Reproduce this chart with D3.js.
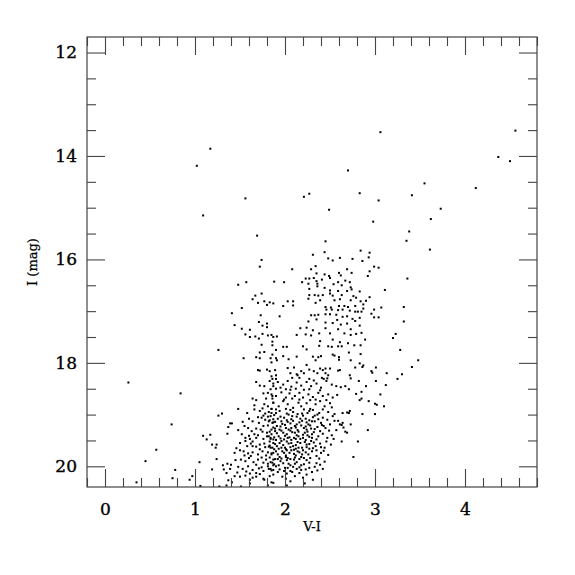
<!DOCTYPE html>
<html>
<head>
<meta charset="utf-8">
<script src="https://cdn.jsdelivr.net/npm/d3@7"></script>
<style>
    body { margin: 0; background: #fff; }
    svg { display: block; }
</style>
</head>
<body>
<div id="container"></div>
<script>
// bornes des axes
const xDomain = [-0.2, 4.8];
const yDomain = [11.7, 20.4];

// graduations
const xMajorTicks = [0, 1, 2, 3, 4];
const xMinorTicks = [-0.2, 0.2, 0.4, 0.6, 0.8, 1.2, 1.4, 1.6, 1.8, 2.2, 2.4, 2.6, 2.8, 3.2, 3.4, 3.6, 3.8, 4.2, 4.4, 4.6, 4.8];
const yMajorTicks = [12, 14, 16, 18, 20];
const yMinorTicks = [12.5, 13, 13.5, 14.5, 15, 15.5, 16.5, 17, 17.5, 18.5, 19, 19.5];

// titres des axes
const xTitle = "V-I";
const yTitle = "I (mag)";

// étoiles brillantes et isolées : [V-I, I]
const brightStars = [
    [3.06,13.54],[1.17,13.86],[1.02,14.19],[2.70,14.28],[4.56,13.51],[4.37,14.02],[4.50,14.10],[3.55,14.53],
    [4.12,14.62],[3.41,14.76],[2.83,14.72],[3.04,14.86],[2.21,14.79],[2.27,14.73],[1.56,14.82],[1.09,15.15],
    [2.49,15.04],[3.73,15.02],[3.62,15.22],[2.98,15.27],[3.38,15.46],[1.69,15.54],[3.61,15.81],[3.48,17.95],
    [0.26,18.38],[0.84,18.59],[0.74,19.19],[0.57,19.68],[0.45,19.90],[0.78,20.07],[0.75,20.23],[0.35,20.31]
];

// branche bleue (V-I < 2.1, I < 18)
const blueBranch = [
    [1.74,16.01],[1.72,16.14],[2.08,16.19],[1.48,16.49],[1.57,16.44],[1.88,16.43],[1.99,16.44],[1.74,16.66],
    [1.67,16.70],[1.64,16.77],[1.70,16.84],[1.77,16.81],[1.80,16.88],[1.83,16.83],[1.87,16.85],[1.98,16.90],
    [2.03,16.81],[2.09,16.81],[2.09,16.89],[1.52,16.94],[1.41,17.04],[1.73,17.08],[1.94,17.10],[1.71,17.21],
    [1.80,17.24],[1.75,17.28],[1.80,17.31],[1.44,17.27],[1.52,17.34],[1.61,17.36],[1.56,17.45],[1.61,17.50],
    [1.67,17.49],[1.71,17.53],[1.75,17.44],[1.81,17.47],[1.85,17.46],[1.87,17.50],[1.91,17.49],[2.13,17.46],
    [1.86,17.59],[1.86,17.66],[1.74,17.65],[1.26,17.75],[1.98,17.69],[2.02,17.69],[1.90,17.75],[1.72,17.80],
    [1.77,17.79],[1.86,17.84],[1.54,17.91],[1.68,17.89],[1.72,17.91],[1.84,17.91],[1.90,17.91],[1.98,17.87],
    [2.13,17.88]
];

// branche rouge (V-I > 2.1, I < 18)
const redBranch = [
    [3.35,15.64],[2.45,15.65],[2.31,15.91],[2.44,15.86],[2.84,15.83],[2.94,15.87],[2.86,16.03],[2.93,15.96],
    [2.48,15.98],[2.53,16.02],[2.61,15.97],[2.75,15.99],[2.34,16.13],[2.29,16.19],[2.99,16.14],[3.04,16.16],
    [2.94,16.23],[2.92,16.32],[3.36,16.37],[2.69,16.19],[2.35,16.27],[2.44,16.29],[2.49,16.32],[2.60,16.26],
    [2.62,16.31],[2.74,16.26],[2.23,16.37],[2.27,16.37],[2.32,16.36],[2.35,16.42],[2.19,16.44],[2.41,16.39],
    [2.50,16.36],[2.59,16.44],[2.67,16.41],[2.72,16.44],[2.26,16.47],[2.36,16.47],[2.36,16.52],[2.54,16.48],
    [2.63,16.50],[2.73,16.54],[2.74,16.58],[2.27,16.57],[2.44,16.55],[2.50,16.60],[2.59,16.61],[2.69,16.61],
    [2.83,16.62],[3.11,16.59],[2.27,16.69],[2.33,16.69],[2.37,16.70],[2.42,16.69],[2.50,16.66],[2.53,16.70],
    [2.63,16.69],[2.76,16.71],[2.79,16.74],[2.94,16.73],[2.26,16.76],[2.39,16.79],[2.55,16.79],[2.61,16.77],
    [2.73,16.79],[2.84,16.81],[2.90,16.80],[2.34,16.84],[2.45,16.92],[2.51,16.93],[2.60,16.90],[2.66,16.90],
    [2.70,16.92],[2.78,16.90],[2.87,16.87],[2.46,16.97],[2.52,16.97],[2.59,16.98],[2.64,16.97],[2.72,16.99],
    [2.78,17.01],[2.81,17.01],[2.85,17.01],[2.87,16.95],[2.99,16.97],[3.07,16.93],[2.96,17.05],[3.32,16.92],
    [2.37,17.07],[2.33,17.08],[2.29,17.08],[2.45,17.06],[2.50,17.06],[2.57,17.07],[2.64,17.11],[2.69,17.10],
    [2.75,17.15],[2.83,17.13],[2.99,17.12],[3.04,17.12],[2.35,17.16],[2.58,17.17],[2.78,17.19],[2.26,17.20],
    [3.32,17.20],[2.45,17.22],[2.53,17.23],[2.69,17.24],[2.17,17.33],[2.24,17.32],[2.31,17.37],[2.45,17.33],
    [2.59,17.35],[2.62,17.26],[2.73,17.35],[2.83,17.28],[2.23,17.45],[2.29,17.47],[2.38,17.43],[2.50,17.43],
    [2.66,17.43],[2.73,17.46],[2.79,17.44],[2.85,17.42],[3.23,17.44],[3.20,17.52],[2.39,17.58],[2.53,17.55],
    [2.61,17.60],[2.89,17.55],[2.48,17.68],[2.52,17.69],[2.59,17.68],[2.63,17.68],[2.70,17.62],[2.77,17.66],
    [2.84,17.66],[2.20,17.68],[2.24,17.74],[2.38,17.67],[3.28,17.75],[2.31,17.88],[2.37,17.89],[2.40,17.87],
    [2.53,17.84],[2.55,17.86],[2.60,17.89],[2.71,17.80],[2.84,17.83]
];

// bord supérieur de l'amas (I entre 17.9 et 18.3) et flanc rouge
const upperClump = [
    [1.85,17.99],[1.91,17.95],[2.04,17.93],[1.70,18.14],[1.72,18.15],[1.80,18.13],[1.83,18.16],[1.89,18.14],
    [2.03,18.10],[2.06,18.20],[2.14,18.24],[1.85,18.26],[1.90,18.24],[1.86,18.31],[1.90,18.31],[1.09,19.41],
    [1.17,19.39],[1.13,19.48],[1.05,19.92],[0.97,20.19],[0.94,20.26],[1.06,20.38],
    [2.34,17.95],[2.60,17.94],[2.73,17.95],[2.83,18.01],[2.87,18.05],[2.86,18.08],[3.01,18.09],[2.96,18.16],
    [2.97,18.19],[3.13,18.20],[3.30,18.22],[3.41,18.08],[3.25,18.31],[2.10,18.09],[2.24,18.04],[2.39,18.11],
    [2.42,18.14],[2.45,18.11],[2.50,18.11],[2.32,18.16],[2.36,18.20],[2.45,18.20],[2.48,18.24],[2.27,18.31],
    [2.32,18.34],[2.41,18.29],[2.43,18.31],[2.47,18.30],[2.59,18.15],[2.61,18.14],[2.72,18.24],[2.78,18.09],
    [2.13,18.22],[2.16,18.29],[2.21,18.20],[2.08,18.29],[2.18,18.16],[2.27,18.13],
    [3.01,18.35],[3.12,18.43],[2.90,18.45],[2.82,18.35],[2.73,18.30],[2.57,18.45],[2.62,18.47],[2.67,18.45],
    [2.71,18.51],[2.85,18.56],[2.79,18.60],[2.85,18.69],[2.83,18.72],[2.93,18.74],[3.00,18.79],[3.02,18.81],
    [3.06,18.61],[3.10,18.84],[3.00,18.99],[2.86,18.99],[2.92,19.30],[2.81,19.52],[2.76,19.82],[2.72,18.93],
    [2.71,18.97],[2.69,18.96],[2.64,18.97],[2.73,19.19],[2.64,19.16],[2.63,19.20],[2.61,19.19],[2.65,19.25],
    [2.59,19.12],[2.67,19.33],[2.69,19.35],[2.63,19.52],[2.57,19.30],
    [2.43,19.22],[2.49,19.31],[2.52,19.40],[2.46,19.52],[2.51,19.58],[2.43,19.70],[2.48,19.78],[2.38,19.85],
    [2.44,19.91],[2.35,19.94],[2.55,19.12],[2.47,19.10],[2.54,19.47],[2.40,19.63],[2.52,18.86],[2.46,18.72],
    [2.58,18.62],[2.55,18.99],[2.36,20.08],[2.42,20.05]
];

// coeur dense de l'amas, côté bleu (V-I 1.2 - 1.9)
const coreBlue = [
    [1.68,18.37],[1.72,18.44],[1.77,18.45],[1.83,18.35],[1.87,18.40],[1.76,18.59],[1.81,18.58],[1.64,18.69],
    [1.48,18.89],[1.77,18.80],[1.81,18.84],[1.87,18.77],[1.30,18.98],[1.26,19.02],[1.76,19.02],[1.74,19.06],
    [1.81,19.04],[1.85,18.97],[1.64,19.13],[1.71,19.16],[1.82,19.13],[1.87,19.15],[1.41,19.17],[1.39,19.17],
    [1.55,19.22],[1.59,19.26],[1.63,19.32],[1.68,19.27],[1.73,19.29],[1.37,19.24],[1.36,19.37],[1.56,19.45],
    [1.56,19.51],[1.61,19.47],[1.64,19.52],[1.68,19.45],[1.76,19.47],[1.80,19.42],[1.84,19.45],[1.87,19.48],
    [1.72,19.58],[1.77,19.56],[1.83,19.60],[1.86,19.64],[1.19,19.58],[1.24,19.58],[1.23,19.64],[1.24,19.86],
    [1.44,19.74],[1.50,19.69],[1.54,19.71],[1.59,19.75],[1.64,19.73],[1.70,19.77],[1.75,19.71],[1.79,19.79],
    [1.85,19.75],[1.51,19.87],[1.56,19.90],[1.60,19.84],[1.65,19.92],[1.70,19.87],[1.76,19.93],[1.79,19.87],
    [1.84,19.92],[1.31,19.98],[1.36,19.95],[1.40,19.97],[1.39,20.05],[1.32,20.06],[1.48,20.01],[1.53,20.05],
    [1.59,20.00],[1.64,20.07],[1.71,20.04],[1.76,20.09],[1.82,20.05],[1.87,20.07],[1.19,20.06],[1.35,20.13],
    [1.44,20.19],[1.50,20.20],[1.56,20.18],[1.61,20.26],[1.68,20.20],[1.76,20.24],[1.83,20.19],[1.37,20.27],
    [1.41,20.31],[1.35,20.37],[1.61,20.33],[1.81,20.37],[1.85,20.31],[1.27,20.39],[1.51,20.39],
    [1.66,18.90],[1.72,18.93],[1.85,18.89],[1.68,18.72],[1.86,18.64],[1.79,18.69],[1.76,19.22],[1.85,19.29],
    [1.80,19.35],[1.66,19.38],[1.72,19.67],[1.64,19.61],[1.58,19.61],[1.81,20.00],[1.87,19.98],[1.68,20.13],
    [1.61,20.14],[1.77,20.26],
    [1.48,19.30],[1.52,19.38],[1.60,19.41],[1.70,19.40],[1.75,19.33],[1.50,19.55],[1.62,19.56],[1.68,19.62],
    [1.78,19.63],[1.46,19.65],[1.55,19.79],[1.62,19.80],[1.74,19.83],[1.45,19.88],[1.68,19.97],[1.74,20.02],
    [1.57,20.10],[1.47,20.12],[1.72,20.15],[1.64,20.22],[1.78,18.98],[1.70,19.05],[1.60,19.08],[1.53,19.14],
    [1.78,19.10],[1.75,18.88],[1.66,18.82],[1.58,18.97]
];

// coeur dense de l'amas, côté rouge (V-I 1.8 - 2.55)
const coreRed = [
    [1.87,18.45],[1.92,18.37],[1.98,18.42],[2.03,18.35],[2.07,18.46],[2.13,18.38],[2.18,18.44],[2.24,18.37],
    [2.29,18.45],[2.35,18.40],[2.40,18.48],[2.46,18.35],[2.52,18.42],
    [1.85,18.61],[1.90,18.64],[1.96,18.57],[2.01,18.67],[2.05,18.59],[2.11,18.64],[2.16,18.58],[2.20,18.67],
    [2.26,18.61],[2.31,18.66],[2.37,18.58],[2.42,18.64],[2.48,18.61],[2.53,18.67],
    [1.87,18.77],[1.93,18.84],[1.98,18.74],[2.03,18.80],[2.09,18.87],[2.15,18.77],[2.18,18.84],[2.24,18.78],
    [2.28,18.89],[2.34,18.80],[2.39,18.74],[2.44,18.84],[2.50,18.78],
    [1.84,19.03],[1.90,18.97],[1.94,18.93],[1.99,19.06],[2.04,19.00],[2.09,18.95],[2.13,19.04],[2.19,18.98],
    [2.23,19.08],[2.27,18.93],[2.33,19.02],[2.38,18.97],[2.42,19.06],[2.48,18.95],[2.53,19.03],
    [1.86,19.16],[1.91,19.22],[1.96,19.13],[2.01,19.26],[2.06,19.17],[2.11,19.22],[2.16,19.15],[2.21,19.26],
    [2.26,19.19],[2.30,19.13],[2.36,19.24],[2.40,19.16],[2.45,19.26],[2.50,19.19],
    [1.85,19.38],[1.89,19.32],[1.93,19.42],[1.98,19.35],[2.03,19.45],[2.08,19.34],[2.13,19.40],[2.17,19.47],
    [2.22,19.35],[2.27,19.43],[2.32,19.34],[2.37,19.42],[2.42,19.37],[2.47,19.45],
    [1.87,19.55],[1.91,19.61],[1.96,19.51],[2.00,19.64],[2.04,19.56],[2.09,19.61],[2.14,19.53],[2.19,19.64],
    [2.24,19.58],[2.29,19.51],[2.34,19.61],[2.39,19.56],[2.44,19.64],
    [1.85,19.77],[1.90,19.71],[1.94,19.82],[1.99,19.74],[2.03,19.84],[2.07,19.69],[2.12,19.79],[2.16,19.73],
    [2.21,19.84],[2.26,19.77],[2.30,19.71],[2.35,19.80],[2.40,19.74],
    [1.86,19.93],[1.90,20.00],[1.95,19.90],[2.00,20.03],[2.04,19.95],[2.09,20.01],[2.13,19.92],[2.18,19.98],
    [2.23,20.06],[2.27,19.93],[2.33,20.01],[2.39,19.97],
    [1.87,20.16],[1.92,20.11],[1.97,20.20],[2.02,20.14],[2.06,20.09],[2.11,20.19],[2.16,20.13],[2.20,20.22],
    [2.24,20.16],[2.30,20.11],[1.87,20.32],[2.01,20.24],[2.02,20.37],[2.06,20.29],[2.22,20.33],[2.31,20.26],
    [1.84,18.51],[1.90,18.50],[1.95,18.48],[2.01,18.51],[2.06,18.52],[2.12,18.50],[2.21,18.52],[2.27,18.51],
    [2.39,18.53],[1.86,18.69],[1.99,18.71],[2.08,18.69],[2.16,18.71],[2.28,18.72],[2.34,18.71],[1.85,18.89],
    [1.90,18.90],[2.01,18.89],[2.06,18.91],[2.21,18.90],[2.31,18.91],[2.42,18.90],[1.87,19.09],[1.92,19.08],
    [2.02,19.11],[2.07,19.09],[2.17,19.08],[2.27,19.11],[2.37,19.09],[1.89,19.27],[1.94,19.29],[2.04,19.29],
    [2.14,19.30],[2.24,19.29],[2.29,19.27],[1.84,19.47],[1.90,19.49],[1.99,19.48],[2.07,19.49],[2.12,19.47],
    [2.23,19.49],[2.35,19.48],[1.84,19.64],[1.93,19.66],[2.02,19.69],[2.12,19.66],[2.27,19.66],[2.35,19.69],
    [1.87,19.87],[1.92,19.86],[2.02,19.88],[2.10,19.87],[2.16,19.86],[2.24,19.88],[1.84,20.05],[1.94,20.06],
    [2.03,20.03],[2.13,20.05],[2.27,20.03],
    [1.82,18.95],[1.88,19.01],[1.95,19.04],[2.02,18.98],[2.08,19.03],[2.14,18.99],[2.20,19.02],[2.25,18.97],
    [2.31,19.05],[2.36,19.00],[1.83,19.11],[1.89,19.14],[1.97,19.18],[2.03,19.14],[2.09,19.12],[2.13,19.19],
    [2.19,19.12],[2.24,19.15],[2.33,19.13],[2.41,19.20],[1.81,19.21],[1.87,19.25],[1.95,19.23],[2.00,19.20],
    [2.07,19.26],[2.12,19.25],[2.18,19.21],[2.23,19.23],[2.28,19.21],[2.33,19.28],[1.83,19.33],[1.91,19.36],
    [1.96,19.31],[2.02,19.38],[2.06,19.31],[2.11,19.35],[2.15,19.33],[2.20,19.39],[2.25,19.33],[2.30,19.38],
    [2.39,19.32],[1.82,19.42],[1.88,19.44],[1.95,19.46],[2.00,19.41],[2.05,19.44],[2.10,19.45],[2.15,19.42],
    [2.20,19.45],[2.25,19.40],[2.30,19.45],[1.83,19.52],[1.89,19.57],[1.94,19.55],[1.98,19.59],[2.02,19.52],
    [2.07,19.55],[2.12,19.59],[2.17,19.55],[2.22,19.53],[2.27,19.57],[2.32,19.54],[1.82,19.62],[1.88,19.67],
    [1.96,19.64],[2.01,19.67],[2.06,19.63],[2.10,19.68],[2.15,19.64],[2.20,19.69],[2.24,19.63],[2.31,19.65],
    [1.81,19.73],[1.87,19.74],[1.92,19.77],[1.97,19.71],[2.01,19.79],[2.05,19.74],[2.10,19.76],[2.14,19.71],
    [2.19,19.77],[2.23,19.73],[1.83,19.83],[1.89,19.86],[1.96,19.85],[2.01,19.82],[2.06,19.86],[2.11,19.83],
    [2.18,19.82],[2.28,19.84],[1.81,19.95],[1.88,19.96],[1.93,19.98],[1.98,19.94],[2.06,19.98],[2.11,19.95],
    [2.16,20.02],[2.21,19.96],[1.85,20.08],[1.99,20.09],[2.08,20.11],[2.18,20.07]
];

// toutes les étoiles
const stars = [].concat(brightStars, blueBranch, redBranch, upperClump, coreBlue, coreRed);

/**
 * Dessin du diagramme couleur-magnitude
 */
function drawChart() {
    const width = 575;
    const height = 575;
    const margin = { top: 37, right: 38, bottom: 88, left: 87 };
    const innerW = width - margin.left - margin.right;
    const innerH = height - margin.top - margin.bottom;
    const axisColor = "#444";
    const font = "'DejaVu Serif', serif";

    // création de l'espace graphique SVG
    const svg = d3.select("#container")
        .append("svg")
        .attr("width", width)
        .attr("height", height);

    const g = svg.append("g")
        .attr("transform", `translate(${margin.left},${margin.top})`);

    // échelles
    const xScale = d3.scaleLinear().domain(xDomain).range([0, innerW]);
    const yScale = d3.scaleLinear().domain(yDomain).range([0, innerH]);

    // zone de découpe
    svg.append("defs").append("clipPath")
        .attr("id", "plot-clip")
        .append("rect")
        .attr("width", innerW)
        .attr("height", innerH);

    // les étoiles
    g.append("g")
        .attr("clip-path", "url(#plot-clip)")
        .selectAll("rect")
        .data(stars)
        .enter()
        .append("rect")
        .attr("x", d => xScale(d[0]) - 1)
        .attr("y", d => yScale(d[1]) - 1)
        .attr("width", 2)
        .attr("height", 2)
        .attr("fill", "#000");

    // axes : graduations majeures et mineures, tournées vers l'intérieur
    const axes = [
        { gen: d3.axisBottom(xScale), pos: `translate(0,${innerH})`, major: xMajorTicks, minor: xMinorTicks, labels: true, pad: 16 },
        { gen: d3.axisTop(xScale), pos: "translate(0,0)", major: xMajorTicks, minor: xMinorTicks, labels: false, pad: 10 },
        { gen: d3.axisLeft(yScale), pos: "translate(0,0)", major: yMajorTicks, minor: yMinorTicks, labels: true, pad: 10 },
        { gen: d3.axisRight(yScale), pos: `translate(${innerW},0)`, major: yMajorTicks, minor: yMinorTicks, labels: false, pad: 10 }
    ];

    axes.forEach(function(a) {
        // mineures
        const minorAxis = a.gen.tickValues(a.minor).tickSizeInner(-9).tickSizeOuter(0).tickFormat("");
        const gm = g.append("g").attr("transform", a.pos).call(minorAxis);
        gm.select(".domain").remove();

        // majeures
        const majorAxis = a.gen.tickValues(a.major).tickSizeInner(-18).tickSizeOuter(0)
            .tickPadding(a.pad)
            .tickFormat(a.labels ? d3.format("d") : "");
        const gM = g.append("g").attr("transform", a.pos).call(majorAxis);
        gM.select(".domain").remove();

        [gm, gM].forEach(function(sel) {
            sel.selectAll("line").attr("stroke", axisColor).attr("stroke-width", 1.1);
            sel.selectAll("text")
                .attr("fill", "#000")
                .attr("stroke", "#000")
                .attr("stroke-width", 0.35)
                .style("font-family", font)
                .style("font-size", "17px");
        });
    });

    // cadre
    g.append("rect")
        .attr("width", innerW)
        .attr("height", innerH)
        .attr("fill", "none")
        .attr("stroke", axisColor)
        .attr("stroke-width", 1.2);

    // nom de l'axe x
    svg.append("text")
        .attr("x", margin.left + innerW / 2)
        .attr("y", 531)
        .attr("text-anchor", "middle")
        .attr("stroke", "#000")
        .attr("stroke-width", 0.25)
        .style("font-family", font)
        .style("font-size", "13px")
        .text(xTitle);

    // nom de l'axe y
    svg.append("text")
        .attr("transform", `translate(37,${margin.top + innerH / 2}) rotate(-90)`)
        .attr("text-anchor", "middle")
        .attr("stroke", "#000")
        .attr("stroke-width", 0.25)
        .style("font-family", font)
        .style("font-size", "13px")
        .text(yTitle);
}

drawChart();
</script>
</body>
</html>
